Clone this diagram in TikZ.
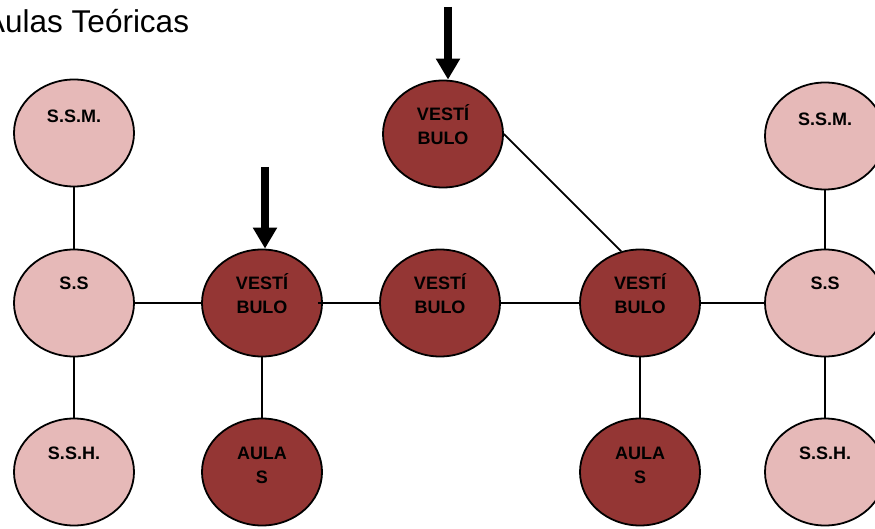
\documentclass[tikz,border=0pt]{standalone}
\usepackage{fontspec}
\setmainfont{Liberation Sans}
\usetikzlibrary{shapes.geometric,arrows.meta,calc}
\definecolor{darkred}{HTML}{943634}
\definecolor{lightpink}{HTML}{E6B9B8}
\tikzset{
  oval/.style={ellipse, draw=black, line width=1.8pt, minimum width=120pt, minimum height=107pt, inner sep=0pt},
  darkoval/.style={oval, fill=darkred},
  lightoval/.style={oval, fill=lightpink},
  lbl/.style={font=\fontsize{18}{24}\selectfont\bfseries, align=center, inner sep=0pt},
  conn/.style={line width=1.8pt, black},
  bigarrow/.style={line width=8pt, -{Triangle[width=23pt,length=21pt]}, black}
}
\begin{document}
\begin{tikzpicture}[x=1pt,y=-1pt]
\useasboundingbox (0,0) rectangle (875,529);
\clip (0,0) rectangle (875,529);
\node[anchor=base west, inner sep=0pt, font=\fontsize{31.5}{36}\selectfont] (title) at (-16,33) {Aulas Teóricas};
% ovals
\node[lightoval] (ssmL) at (74,133) {};
\node[lightoval] (ssL) at (74,303) {};
\node[lightoval] (sshL) at (74,472) {};
\node[darkoval] (v1) at (262,303) {};
\node[darkoval] (aL) at (262,472) {};
\node[darkoval] (v2) at (440,303) {};
\node[darkoval] (vt) at (443,134) {};
\node[darkoval] (v3) at (640,303) {};
\node[darkoval] (aR) at (640,472) {};
\node[lightoval] (ssmR) at (825,136) {};
\node[lightoval] (ssR) at (825,303) {};
\node[lightoval] (sshR) at (825,472) {};
% labels
\node[lbl] (tssmL) at ($(ssmL)+(0,-17)$) {S.S.M.};
\node[lbl] (tssL) at ($(ssL)+(0,-20)$) {S.S};
\node[lbl] (tsshL) at ($(sshL)+(0,-19)$) {S.S.H.};
\node[lbl] (tv1) at ($(v1)+(0,-9)$) {VESTÍ\\BULO};
\node[lbl] (taL) at ($(aL)+(0,-7)$) {AULA\\S};
\node[lbl] (tv2) at ($(v2)+(0,-9)$) {VESTÍ\\BULO};
\node[lbl] (tvt) at ($(vt)+(0,-9)$) {VESTÍ\\BULO};
\node[lbl] (tv3) at ($(v3)+(0,-9)$) {VESTÍ\\BULO};
\node[lbl] (taR) at ($(aR)+(0,-7)$) {AULA\\S};
\node[lbl] (tssmR) at ($(ssmR)+(0,-17)$) {S.S.M.};
\node[lbl] (tssR) at ($(ssR)+(0,-20)$) {S.S};
\node[lbl] (tsshR) at ($(sshR)+(0,-19)$) {S.S.H.};
% connectors
\draw[conn] (ssmL) -- (ssL);
\draw[conn] (ssL) -- (sshL);
\draw[conn] (ssL.east) -- (v1.west);
\draw[conn] (v1) -- (aL);
\draw[conn] ([xshift=-5pt]v1.east) -- (v2.west);
\draw[conn] (v2.east) -- (v3.west);
\draw[conn] (v3.east) -- (ssR.west);
\draw[conn] (v3) -- (aR);
\draw[conn] (vt.east) -- (v3.110);
\draw[conn] (ssmR) -- (ssR);
\draw[conn] (ssR) -- (sshR);
% arrows
\coordinate (a1s) at (265,167);
\coordinate (a2s) at (448,7);
\draw[bigarrow] (a1s) -- (v1.north -| a1s);
\draw[bigarrow] (a2s) -- (vt.north -| a2s);
\end{tikzpicture}
\end{document}
